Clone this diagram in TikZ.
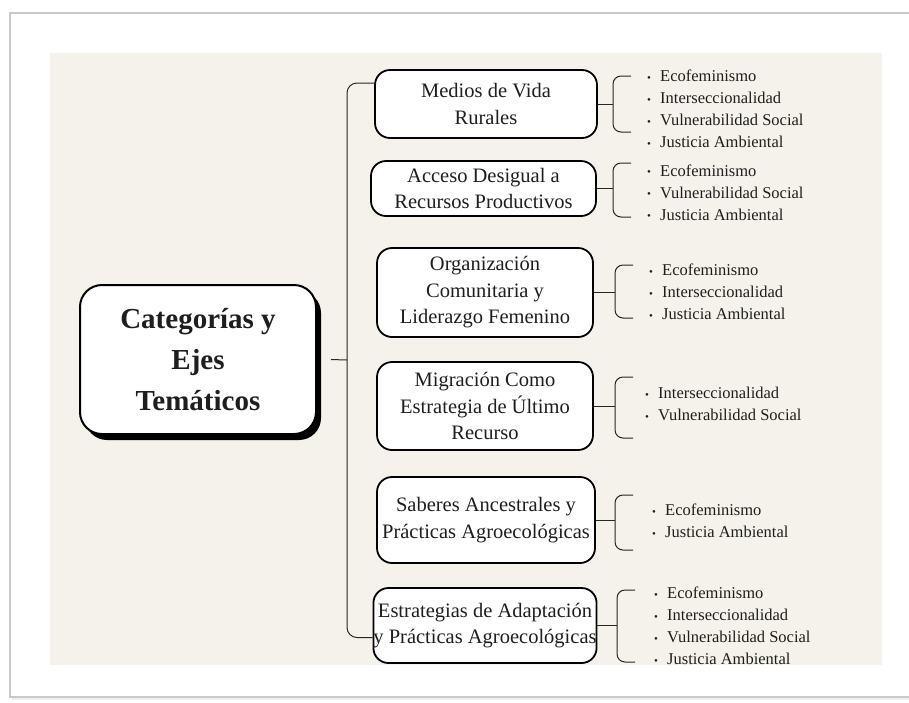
\documentclass[tikz,border=0pt]{standalone}
\usepackage{fontspec}
\setmainfont{Liberation Serif}
\usepackage{xcolor}
\usetikzlibrary{calc, positioning, shadows}

\definecolor{papel}{HTML}{F4F2EA}
\definecolor{marco}{HTML}{C9C9C9}
\definecolor{tinta}{HTML}{1E1E1E}

\newcommand{\eje}[1]{\makebox[13pt][l]{\raisebox{0.5pt}{\fontsize{11}{11}\selectfont\textbullet}}#1}

\tikzset{
    raiz/.style={draw=black, line width=2pt, rounded corners=22pt, fill=white, align=center,
        text=tinta, font=\fontsize{29}{41}\selectfont\bfseries, inner sep=0pt,
        minimum width=236pt, minimum height=149pt,
        drop shadow={fill=black, opacity=1, shadow xshift=5pt, shadow yshift=-6pt}},
    tema/.style={draw=black, line width=1.8pt, rounded corners=15pt, fill=white, align=center,
        text=tinta, font=\fontsize{20.5}{26.5}\selectfont, inner sep=0pt},
    lista/.style={anchor=west, align=left, text=tinta, inner sep=0pt,
        font=\fontsize{16.5}{22}\selectfont},
    rama/.style={draw=black!85, line width=1pt, rounded corners=8pt}
}

\begin{document}
\begin{tikzpicture}[x=1pt, y=-1pt]
    \useasboundingbox (0,0) rectangle (909,702);
    % hoja y fondo
    \fill[black!6] (12,16) rectangle (918,700);
    \filldraw[fill=white, draw=marco, line width=1.5pt] (10,13) rectangle (916,697);
    \fill[papel] (50,53) rectangle (882,665);

    % nodo central
    \node[raiz] (cat) at (198,359.5) {Categorías y\\Ejes\\Temáticos};

    % categorias
    \node[tema, minimum width=222pt, minimum height=68pt] (m1) at (486,104) {Medios de Vida\\Rurales};
    \node[tema, minimum width=225pt, minimum height=55pt] (m2) at (483.5,188.5) {Acceso Desigual a\\Recursos Productivos};
    \node[tema, minimum width=216pt, minimum height=89pt] (m3) at (485,292.5) {Organización\\Comunitaria y\\Liderazgo Femenino};
    \node[tema, minimum width=216pt, minimum height=88pt] (m4) at (485,406) {Migración Como\\Estrategia de Último\\Recurso};
    \node[tema, minimum width=218pt, minimum height=86pt] (m5) at (486,520) {Saberes Ancestrales y\\Prácticas Agroecológicas};
    \node[tema, minimum width=220pt, minimum height=75pt] (m6) at (485,625.5) {Estrategias de Adaptación\\y Prácticas Agroecológicas};

    % ejes
    \node[lista] (l1) at (647,109) {\eje{Ecofeminismo}\\\eje{Interseccionalidad}\\\eje{Vulnerabilidad Social}\\\eje{Justicia Ambiental}};
    \node[lista] (l2) at (647,192.5) {\eje{Ecofeminismo}\\\eje{Vulnerabilidad Social}\\\eje{Justicia Ambiental}};
    \node[lista] (l3) at (649,292) {\eje{Ecofeminismo}\\\eje{Interseccionalidad}\\\eje{Justicia Ambiental}};
    \node[lista] (l4) at (645,404) {\eje{Interseccionalidad}\\\eje{Vulnerabilidad Social}};
    \node[lista] (l5) at (652,521) {\eje{Ecofeminismo}\\\eje{Justicia Ambiental}};
    \node[lista] (l6) at (654,626) {\eje{Ecofeminismo}\\\eje{Interseccionalidad}\\\eje{Vulnerabilidad Social}\\\eje{Justicia Ambiental}};

    % tronco
    \coordinate (tronco) at (347,360);
    \draw[rama] ($(cat.east)+(14,0)$) -- (tronco);
    \draw[rama, rounded corners=10pt] ($(m1.west)+(0,-21)$) -| (tronco) |- ($(m6.west)+(0,12)$);

    % llaves
    \foreach \i/\x/\top/\bot in {1/613/76/132, 2/613/163/217, 3/615/265/318, 4/615/377/438, 5/615/495/550, 6/617/590/662} {
        \coordinate (b\i) at (\x,0);
        \draw[rama] (m\i.east) -- (m\i.east -| b\i);
        \draw[rama] (\x+18,\top) -| (\x,{(\top+\bot)/2}) |- (\x+18,\bot);
    }
\end{tikzpicture}
\end{document}
